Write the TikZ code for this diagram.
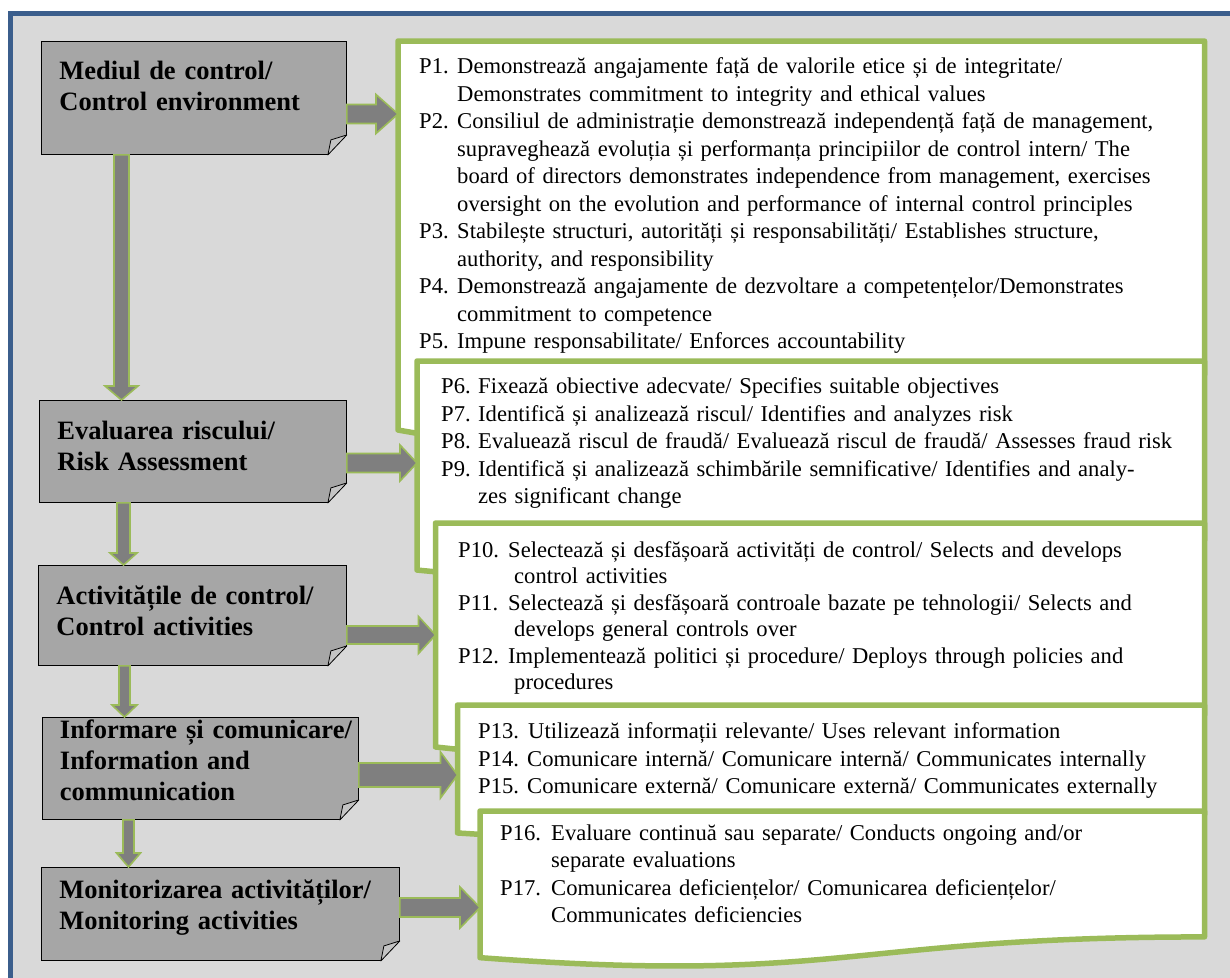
\documentclass[tikz,border=0pt]{standalone}
\usepackage{fontspec}
\setmainfont{Liberation Serif}
\usetikzlibrary{calc}

\definecolor{framebg}{HTML}{D9D9D9}
\definecolor{frameblue}{HTML}{3B5E8C}
\definecolor{olive}{HTML}{9BBB59}
\definecolor{boxgray}{HTML}{A6A6A6}
\definecolor{arrowgray}{HTML}{7F7F7F}
\definecolor{foldgray}{HTML}{C4C4C4}

% white panel with a wavy bottom: name, left x, top y, height
\newcommand\docpanel[4]{%
  \draw[panel] (#2,#3) coordinate (#1) -- (1204.5,#3) -- (1204.5,{#3+0.802*#4})
    .. controls ({(#2+1204.5)/2},{#3+0.802*#4}) and ({(#2+1204.5)/2},{#3+1.107*#4})
    .. (#2,{#3+0.934*#4}) -- cycle;}

% one principle: label, label width, hanging indent, text
\newcommand\pitem[4]{\hangindent=#3pt\hangafter=1\makebox[#2pt][l]{#1}#4\par}

% cut and folded corner of a box
\newcommand\foldcorner[1]{%
  \fill[framebg] ([xshift=-19pt]#1.south east) -- ([xshift=-19pt,yshift=-1.5pt]#1.south east)
    -- ([xshift=1.5pt,yshift=-1.5pt]#1.south east) -- ([xshift=1.5pt,yshift=20pt]#1.south east)
    -- ([yshift=20pt]#1.south east) -- cycle;
  \filldraw[fold] ([yshift=20pt]#1.south east) -- ([xshift=-16pt,yshift=15pt]#1.south east)
    -- ([xshift=-19pt]#1.south east) -- cycle;}

% block arrows: from node, to node/coordinate, axis, half shaft, half head, head length
\newcommand\harrow[6]{%
  \draw[blockarrow] let \p1=(#1.east |- 0,#3), \p2=(#2 |- 0,#3) in
    (\x1,\y1+#4pt) -- (\x2-#6pt,\y1+#4pt) -- (\x2-#6pt,\y1+#5pt) -- (\x2,\y1)
    -- (\x2-#6pt,\y1-#5pt) -- (\x2-#6pt,\y1-#4pt) -- (\x1,\y1-#4pt) -- cycle;}
\newcommand\varrow[6]{%
  \draw[blockarrow] let \p1=(#1.south -| #3,0), \p2=(#2.north -| #3,0) in
    (\x1-#4pt,\y1) -- (\x1-#4pt,\y2+#6pt) -- (\x1-#5pt,\y2+#6pt) -- (\x1,\y2)
    -- (\x1+#5pt,\y2+#6pt) -- (\x1+#4pt,\y2+#6pt) -- (\x1+#4pt,\y1) -- cycle;}

\begin{document}
\begin{tikzpicture}[x=1pt,y=-1pt,
  panel/.style={fill=white,draw=olive,line width=5.5pt,line join=round},
  ptext/.style={anchor=base west,inner sep=0pt,text width=780pt,align=left,
    font=\fontsize{22.6}{27.5}\selectfont},
  procbox/.style={anchor=north west,fill=boxgray,draw=black,line width=0.9pt,
    inner xsep=18pt,inner ysep=0pt,align=left,text height=0pt,
    font=\fontsize{26.5}{31}\selectfont\bfseries},
  fold/.style={fill=foldgray,draw=black,line width=0.8pt,line join=round},
  blockarrow/.style={fill=arrowgray,draw=olive,line width=1.6pt}]

\useasboundingbox (0,0) rectangle (1230,977);

% frame
\fill[framebg] (10.5,13.5) rectangle (1240,990);
\draw[frameblue,line width=4.5pt] (10.5,990) -- (10.5,13.5) -- (1240,13.5);

% principles
\docpanel{penv}{398}{41}{416.5}
\node[ptext] (lenv) at (419,73.7) {%
\pitem{P1.}{38}{38}{Demonstrează angajamente față de valorile etice și de integritate/\newline
Demonstrates commitment to integrity and ethical values}
\pitem{P2.}{38}{38}{Consiliul de administrație demonstrează independență față de management,\newline
supraveghează evoluția și performanța principiilor de control intern/ The\newline
board of directors demonstrates independence from management, exercises\newline
oversight on the evolution and performance of internal control principles}
\pitem{P3.}{38}{38}{Stabilește structuri, autorități și responsabilități/ Establishes structure,\newline
authority, and responsibility}
\pitem{P4.}{38}{38}{Demonstrează angajamente de dezvoltare a competențelor/Demonstrates\newline
commitment to competence}
\pitem{P5.}{38}{38}{Impune responsabilitate/ Enforces accountability}};

\docpanel{prisk}{417}{361}{223.8}
\node[ptext] (lrisk) at (441,393.7) {%
\pitem{P6.}{37}{37}{Fixează obiective adecvate/ Specifies suitable objectives}
\pitem{P7.}{37}{37}{Identifică și analizează riscul/ Identifies and analyzes risk}
\pitem{P8.}{37}{37}{Evaluează riscul de fraudă/ Evaluează riscul de fraudă/ Assesses fraud risk}
\pitem{P9.}{37}{37}{Identifică și analizează schimbările semnificative/ Identifies and analy-\newline
zes significant change}};

\docpanel{pact}{435.5}{523}{239.8}
\node[ptext,font=\fontsize{22.6}{26.5}\selectfont] (lact) at (458,557.1) {%
\pitem{P10.}{50}{56}{Selectează și desfășoară activități de control/ Selects and develops\newline
control activities}
\pitem{P11.}{50}{56}{Selectează și desfășoară controale bazate pe tehnologii/ Selects and\newline
develops general controls over}
\pitem{P12.}{50}{56}{Implementează politici și procedure/ Deploys through policies and\newline
procedures}};

\docpanel{pinfo}{457.5}{705}{137}
\node[ptext] (linfo) at (478,738.7) {%
\pitem{P13.}{50}{50}{Utilizează informații relevante/ Uses relevant information}
\pitem{P14.}{49}{50}{Comunicare internă/ Comunicare internă/ Communicates internally}
\pitem{P15.}{49}{50}{Comunicare externă/ Comunicare externă/ Communicates externally}};

\docpanel{pmon}{480}{811}{157}
\node[ptext] (lmon) at (500,840.4) {%
\pitem{P16.}{51}{51}{Evaluare continuă sau separate/ Conducts ongoing and/or\newline
separate evaluations}
\pitem{P17.}{51}{51}{Comunicarea deficiențelor/ Comunicarea deficiențelor/\newline
Communicates deficiencies}};

% components
\node[procbox,minimum width=305,minimum height=113,text width=269,text depth=37] (env) at (41,41)
  {Mediul de control/\\Control environment};
\node[procbox,minimum width=307,minimum height=102,text width=271,text depth=24.6] (risk) at (39,400)
  {Evaluarea riscului/\\Risk Assessment};
\node[procbox,minimum width=308,minimum height=100,text width=272,text depth=21.4] (act) at (38,565)
  {Activitățile de control/\\Control activities};
\node[procbox,minimum width=316.5,minimum height=102,text width=280.5,text depth=60.6] (info) at (41.5,717)
  {\mbox{Informare și comunicare/}\\Information and\\communication};
\node[procbox,minimum width=358,minimum height=93,text width=322,text depth=31.6] (mon) at (41,867)
  {Monitorizarea activităților/\\Monitoring activities};
\foldcorner{env}
\foldcorner{risk}
\foldcorner{act}
\foldcorner{info}
\foldcorner{mon}

% arrows
\varrow{env}{risk}{121.5}{7.5}{16.5}{14}
\varrow{risk}{act}{123.5}{6.5}{13.5}{12}
\varrow{act}{info}{124.5}{5.5}{12.5}{12}
\varrow{info}{mon}{128.5}{5.5}{12}{14}
\harrow{env}{penv}{114}{9.5}{19.5}{22}
\harrow{risk}{prisk}{463}{9.5}{18}{17}
\harrow{act}{pact}{635}{9}{18.5}{17}
\harrow{info}{pinfo}{775}{12}{23}{17}
\harrow{mon}{pmon}{907.5}{9.5}{20.5}{20}

\end{tikzpicture}
\end{document}
